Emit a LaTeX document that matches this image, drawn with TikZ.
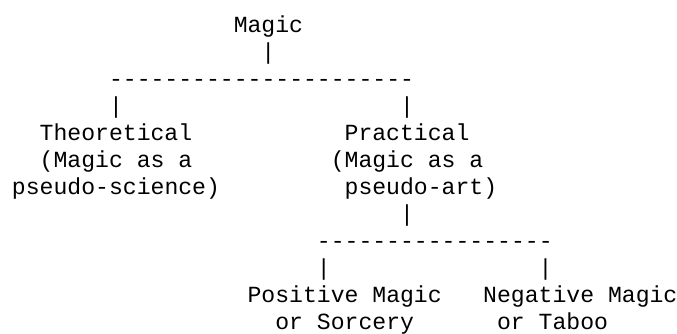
\documentclass[tikz,border=0pt]{standalone}
\usepackage{fontspec}
\setmonofont{Liberation Mono}
\usetikzlibrary{positioning}

\tikzset{
  ascii/.style={anchor=base west, inner sep=0pt, outer sep=0pt,
    font=\ttfamily\fontsize{17.33}{20.25}\selectfont}
}
% one character cell is 13.86px wide, one text row is 27px high
\newcommand{\cw}{13.86}

\begin{document}
\begin{tikzpicture}[x=0.75pt,y=-0.75pt]
\useasboundingbox (0,0) rectangle (677,333);

% Root
\node[ascii] (magic) at ({12+16*\cw},{32+27*0}) {Magic};

% First split
\node[ascii] (split1) at ({12+7*\cw},{32+27*2}) {----------------------};

% Theoretical branch
\node[ascii] (theo1) at ({12+2*\cw},{32+27*4}) {Theoretical};
\node[ascii] (theo2) at ({12+2*\cw},{32+27*5}) {(Magic as a};
\node[ascii] (theo3) at ({12+0*\cw},{32+27*6}) {pseudo-science)};

% Practical branch
\node[ascii] (prac1) at ({12+24*\cw},{32+27*4}) {Practical};
\node[ascii] (prac2) at ({12+23*\cw},{32+27*5}) {(Magic as a};
\node[ascii] (prac3) at ({12+24*\cw},{32+27*6}) {pseudo-art)};

% Second split
\node[ascii] (split2) at ({12+22*\cw},{32+27*8}) {-----------------};

% Leaves
\node[ascii] (pos1) at ({12+17*\cw},{32+27*10}) {Positive Magic};
\node[ascii] (pos2) at ({12+19*\cw},{32+27*11}) {or Sorcery};
\node[ascii] (neg1) at ({12+34*\cw},{32+27*10}) {Negative Magic};
\node[ascii] (neg2) at ({12+35*\cw},{32+27*11}) {or Taboo};

% Bars
\foreach \c/\r in {18/1,7/3,28/3,28/7,22/9,38/9} {
    \node[ascii] (bar\c-\r) at ({12+\c*\cw},{32+27*\r}) {|};
}
\end{tikzpicture}
\end{document}
